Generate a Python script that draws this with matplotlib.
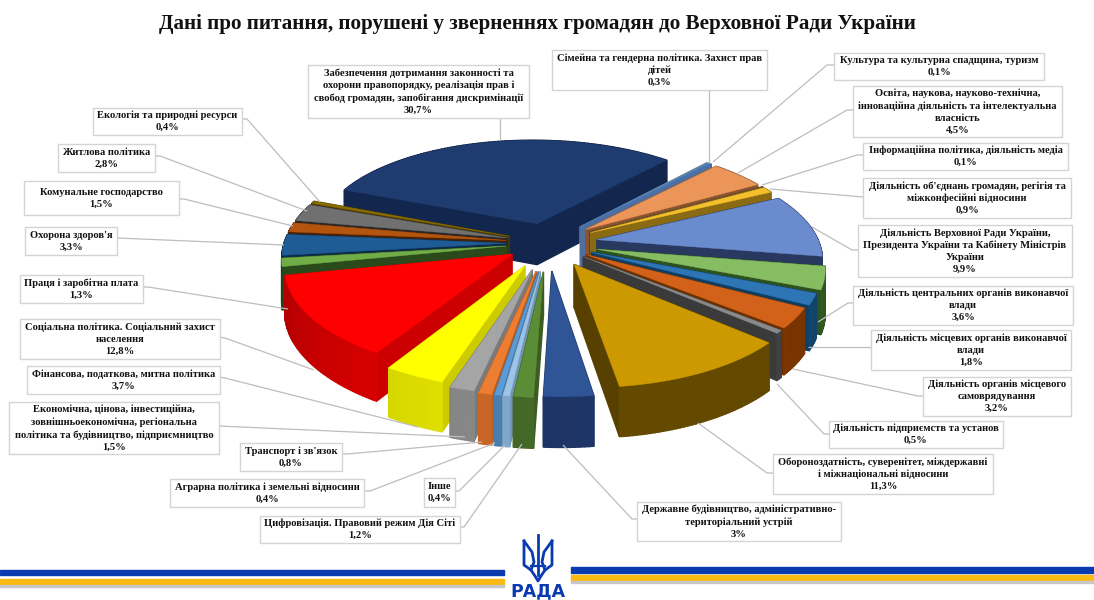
import matplotlib
matplotlib.use('Agg')
import matplotlib.pyplot as plt
from matplotlib.colors import to_rgb
from matplotlib.patches import Polygon, Rectangle
import numpy as np

plt.rcParams['font.family'] = ['Liberation Serif', 'DejaVu Serif']

title = 'Дані про питання, порушені у зверненнях громадян до Верховної Ради України'

# clockwise from the big slice
names = [
	'Забезпечення дотримання законності та\nохорони правопорядку, реалізація прав і\nсвобод громадян, запобігання дискримінації',
	'Сімейна та гендерна політика. Захист прав\nдітей',
	'Культура та культурна спадщина, туризм',
	'Освіта, наукова, науково-технічна,\nінноваційна діяльність та інтелектуальна\nвласність',
	'Інформаційна політика, діяльність медіа',
	"Діяльність об'єднань громадян, регігія та\nміжконфесійні відносини",
	'Діяльність Верховної Ради України,\nПрезидента України та Кабінету Міністрів\nУкраїни',
	'Діяльність центральних органів виконавчої\nвлади',
	'Діяльність місцевих органів виконавчої\nвлади',
	'Діяльність органів місцевого\nсамоврядування',
	'Діяльність підприємств та установ',
	'Обороноздатність, суверенітет, міждержавні\nі міжнаціональні відносини',
	'Державне будівництво, адміністративно-\nтериторіальний устрій',
	'Цифровізація. Правовий режим Дія Сіті',
	'Інше',
	'Аграрна політика і земельні відносини',
	"Транспорт і зв'язок",
	'Економічна, цінова, інвестиційна,\nзовнішньоекономічна, регіональна\nполітика та будівництво, підприємництво',
	'Фінансова, податкова, митна політика',
	'Соціальна політика. Соціальний захист\nнаселення',
	'Праця і заробітна плата',
	"Охорона здоров'я",
	'Комунальне господарство',
	'Житлова політика',
	'Екологія та природні ресурси',
]
values = [30.7, 0.3, 0.1, 4.5, 0.1, 0.9, 9.9, 3.6, 1.8, 3.2, 0.5, 11.3, 3.0, 1.2, 0.4,
	0.4, 0.8, 1.5, 3.7, 12.8, 1.3, 3.3, 1.5, 2.8, 0.4]
value_labels = ['30,7%', '0,3%', '0,1%', '4,5%', '0,1%', '0,9%', '9,9%', '3,6%', '1,8%', '3,2%', '0,5%',
	'11,3%', '3%', '1,2%', '0,4%', '0,4%', '0,8%', '1,5%', '3,7%', '12,8%', '1,3%', '3,3%', '1,5%', '2,8%', '0,4%']

top_colors = ['#1f3c70', '#5b84a8', '#4472c4', '#ec9558', '#7a5a30', '#f4bf2a', '#6a8ccf', '#86bd62', '#2e75b6',
	'#d2621a', '#8a8a8a', '#cc9900', '#2f5597', '#5b8c36', '#9dc3e6', '#5b9bd5', '#ed7d31', '#a5a5a5', '#ffff00',
	'#ff0000', '#70ad47', '#1f5c96', '#b3540f', '#707070', '#8a6d00']
wall_colors = ['#12264e', '#6f93b0', '#4f6f9f', '#8a5430', '#5a4020', '#8a6b14', '#28385f', '#2d5220', '#0f3f63',
	'#6e2f00', '#3a3a3a', '#574000', '#1a2f5a', '#3c5c22', '#7295b5', '#41719c', '#b55c23', '#7a7a7a', '#cccc00',
	'#cc0000', '#2a4a1c', '#0b2c4a', '#4a2206', '#2a2a2a', '#4e3d00']
explode = [45, 50, 50, 50, 50, 50, 50, 50, 47, 45, 45, 52, 60, 62, 62, 62, 62, 60, 55, 44, 42, 42, 42, 42, 42]

# label boxes, x0, x1, y0, y1 in pixels
boxes = [(308, 529, 65, 118), (552, 767, 50, 90), (834, 1044, 53, 80), (853, 1062, 86, 137), (863, 1068, 143, 170),
	(863, 1071, 178, 218), (858, 1072, 225, 277), (853, 1073, 286, 325), (871, 1071, 330, 370), (923, 1071, 377, 416),
	(829, 1003, 421, 448), (773, 993, 454, 494), (637, 841, 502, 541), (260, 460, 516, 543), (424, 455, 478, 507),
	(170, 364, 479, 507), (240, 342, 443, 471), (9, 219, 402, 454), (27, 220, 366, 394), (20, 220, 319, 359),
	(20, 143, 275, 303), (25, 117, 227, 255), (24, 179, 181, 215), (58, 155, 144, 172), (93, 242, 108, 135)]
leaders = [
	[(500, 118), (500, 140)], [(709, 90), (709, 163)], [(834, 65), (827, 65), (713, 162)],
	[(853, 110), (847, 110), (738, 173)], [(863, 155), (857, 155), (762, 185)], [(863, 197), (770, 189)],
	[(858, 250), (852, 250), (812, 227)], [(853, 303), (848, 303), (818, 322)], [(871, 347), (808, 347)],
	[(923, 396), (918, 396), (793, 369)], [(829, 434), (824, 434), (777, 384)], [(773, 473), (767, 473), (698, 423)],
	[(637, 519), (632, 519), (563, 445)], [(460, 527), (464, 527), (522, 444)], [(455, 491), (459, 491), (505, 445)],
	[(364, 491), (370, 491), (495, 443)], [(342, 454), (347, 454), (482, 442)], [(219, 426), (465, 437)],
	[(220, 377), (225, 378), (418, 427)], [(220, 337), (225, 338), (314, 370)], [(143, 287), (148, 287), (288, 309)],
	[(117, 238), (284, 245)], [(179, 199), (184, 199), (293, 226)], [(155, 156), (160, 156), (307, 211)],
	[(242, 119), (247, 119), (320, 202)],
]

# pie camera
cx, cy = 548, 243
R = 222
start = 158.0
tilt = 0.45
persp = 0.137
shear = 0.03
depth = 42


def project(x, y):
	w = 1 + persp * y / R
	return cx + (x - shear * y) / w, cy - tilt * y / w, depth / w


def shade(color, f):
	return tuple(np.clip(np.array(to_rgb(color)) * f, 0, 1))


fig = plt.figure(figsize=(10.94, 6.0), dpi=100)
ax = fig.add_axes([0, 0, 1, 1])
ax.set_xlim(0, 1094)
ax.set_ylim(600, 0)
ax.axis('off')

ax.text(537, 23.5, title, ha='center', va='center', fontsize=15.2, fontweight='bold', color='#111111')

edges = start - np.cumsum([0] + values) * 3.6
mids = (edges[:-1] + edges[1:]) / 2
order = np.argsort(-np.sin(np.radians(mids)))

for i in order:
	a0, a1 = edges[i], edges[i + 1]
	mid = np.radians(mids[i])
	ox, oy = explode[i] * np.cos(mid), explode[i] * np.sin(mid)
	t = np.radians(np.linspace(a0, a1, max(int(a0 - a1) + 2, 3)))
	px = np.concatenate([[ox], ox + R * np.cos(t)])
	py = np.concatenate([[oy], oy + R * np.sin(t)])
	sx, sy, d = project(px, py)
	n = len(t)

	# all wall pieces go back to front
	walls = []
	for j in (1, n):
		quad = [(sx[0], sy[0]), (sx[j], sy[j]), (sx[j], sy[j] + d[j]), (sx[0], sy[0] + d[0])]
		walls.append(((py[0] + py[j]) / 2, quad, wall_colors[i]))
	for j in range(1, n):
		f = 0.9 + 0.25 * np.cos(t[j] + np.radians(70))
		quad = [(sx[j], sy[j]), (sx[j + 1], sy[j + 1]), (sx[j + 1], sy[j + 1] + d[j + 1]), (sx[j], sy[j] + d[j])]
		walls.append(((py[j] + py[j + 1]) / 2, quad, shade(wall_colors[i], f)))
	for w in sorted(walls, key=lambda w: -w[0]):
		ax.add_patch(Polygon(w[1], facecolor=w[2], edgecolor=w[2], lw=1.0))
	ax.add_patch(Polygon(np.column_stack([sx, sy]), facecolor=top_colors[i], edgecolor=top_colors[i], lw=0.3))

for i in range(len(names)):
	line = np.array(leaders[i])
	ax.plot(line[:, 0], line[:, 1], color='#bdbdbd', lw=0.9, solid_capstyle='butt', zorder=5)
	x0, x1, y0, y1 = boxes[i]
	ax.add_patch(Rectangle((x0, y0), x1 - x0, y1 - y0, facecolor='white', edgecolor='#d4d4d4', lw=1.0, zorder=6))
	ax.text((x0 + x1) / 2, (y0 + y1) / 2, names[i] + '\n' + value_labels[i], ha='center', va='center',
		fontsize=7.55, fontweight='bold', color='#111111', linespacing=1.4, zorder=7)

# footer stripes
blue = '#0a3ab0'
gold = '#fdb913'
ax.add_patch(Rectangle((0, 570), 504, 5, color=blue))
ax.add_patch(Rectangle((0, 579), 504, 6, color=gold))
ax.add_patch(Rectangle((571, 567), 523, 6, color=blue))
ax.add_patch(Rectangle((571, 575), 523, 6, color=gold))
ax.add_patch(Rectangle((571, 581), 523, 1.5, color='#c8c8c8'))
ax.add_patch(Rectangle((0, 585), 504, 1.5, color='#c8c8c8'))

# trident, rough strokes
ax.plot([538, 538], [535, 575], color=blue, lw=2.0)
ax.plot([524, 524, 531, 535, 538, 541, 545, 552, 552], [541, 565, 570, 576, 581, 576, 570, 565, 541], color=blue, lw=2.0)
ax.plot([524, 532, 534, 531], [541, 552, 562, 570], color=blue, lw=2.0)
ax.plot([552, 544, 542, 545], [541, 552, 562, 570], color=blue, lw=2.0)
ax.plot([531, 545], [566, 566], color=blue, lw=1.6)
ax.text(538, 596.5, 'РАДА', ha='center', va='baseline', fontsize=12.5, fontweight='bold', color=blue, family=['DejaVu Sans'])

fig.savefig('out.png', dpi=100)
